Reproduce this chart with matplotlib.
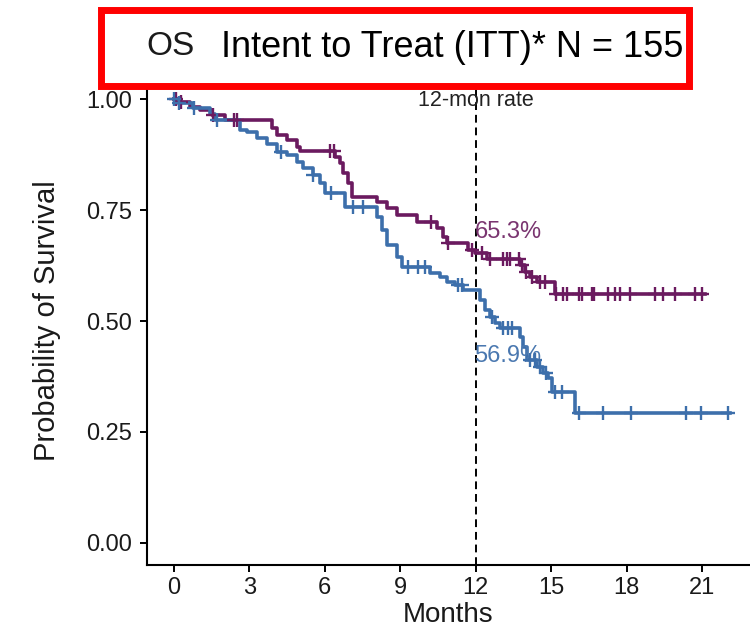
import numpy as np
import matplotlib
matplotlib.use("Agg")
from matplotlib import pyplot as plt
from matplotlib.patches import Rectangle

plt.rcParams["font.family"] = ["Liberation Sans", "DejaVu Sans"]

# Kaplan-Meier steps: (month, survival after the drop)
purple_t = [0.12, 0.64, 1.03, 1.51, 2.03, 3.90, 4.10, 4.49, 4.89, 5.01, 6.40, 6.60,
            6.72, 6.92, 7.08, 8.07, 8.47, 8.87, 9.66, 10.46, 10.70, 10.85, 11.70,
            11.95, 12.45, 13.76, 13.96, 14.16, 14.43, 15.15]
purple_s = [0.993, 0.982, 0.975, 0.964, 0.953, 0.935, 0.920, 0.908, 0.892, 0.883,
            0.869, 0.856, 0.833, 0.811, 0.779, 0.768, 0.754, 0.739, 0.723, 0.710,
            0.689, 0.676, 0.660, 0.653, 0.640, 0.626, 0.610, 0.599, 0.588, 0.561]
purple_cens = [0.10, 0.30, 1.55, 2.40, 2.50, 6.20, 6.36, 10.20, 10.90, 11.85,
               12.25, 12.55, 13.10, 13.24, 13.35, 13.70, 13.82, 14.00, 14.25,
               14.55, 14.75, 15.19, 15.47, 15.63, 16.10, 16.22, 16.62, 16.68,
               17.26, 17.53, 17.73, 18.13, 19.13, 19.44, 19.92, 20.72, 21.00]
purple_end = 21.1

blue_t = [0.15, 0.75, 1.43, 1.63, 2.62, 2.90, 3.30, 3.70, 4.10, 4.49, 4.89, 5.13,
          5.53, 5.80, 6.00, 6.80, 8.07, 8.27, 8.47, 8.87, 9.07, 10.18, 10.58,
          10.85, 11.17, 11.49, 12.17, 12.37, 12.56, 12.76, 12.96, 13.76, 13.88,
          14.04, 14.43, 14.67, 14.87, 15.03, 15.94]
blue_s = [0.991, 0.980, 0.966, 0.953, 0.930, 0.925, 0.912, 0.900, 0.880, 0.874,
          0.858, 0.845, 0.829, 0.811, 0.788, 0.757, 0.734, 0.705, 0.671, 0.644,
          0.622, 0.608, 0.600, 0.588, 0.581, 0.569, 0.547, 0.525, 0.509, 0.495,
          0.484, 0.464, 0.441, 0.412, 0.396, 0.383, 0.372, 0.340, 0.293]
blue_cens = [0.00, 0.20, 0.80, 1.73, 4.25, 5.53, 6.25, 7.10, 7.50, 9.30, 9.70,
             10.00, 11.30, 11.45, 12.65, 13.08, 13.28, 13.44, 14.16, 14.35, 14.55,
             14.79, 15.15, 15.43, 16.10, 17.06, 18.17, 20.36, 20.95, 22.03]
blue_end = 22.1

rate_month = 12
purple_rate = "65.3%"
blue_rate = "56.9%"

x_ticks = [0, 3, 6, 9, 12, 15, 18, 21]
y_ticks = [0.0, 0.25, 0.5, 0.75, 1.0]

purple = "#6b1a5f"
blue = "#3d6fab"


def km_path(times, surv, end):
    t = np.concatenate([[0.0], times, [end]])
    s = np.concatenate([[1.0], surv, [surv[-1]]])
    return t, s


def surv_at(times, surv, x):
    idx = np.searchsorted(times, x, side="right")
    full = np.concatenate([[1.0], surv])
    return full[idx]


fig = plt.figure(figsize=(7.5, 6.36), dpi=100)
ax = fig.add_axes([147 / 750, 1 - 565 / 636, 603 / 750, 488 / 636])

for t, s, c, end, col in [
    (purple_t, purple_s, purple_cens, purple_end, purple),
    (blue_t, blue_s, blue_cens, blue_end, blue),
]:
    xs, ys = km_path(t, s, end)
    ax.step(xs, ys, where="post", color=col, lw=2.6, zorder=3)
    cy = [surv_at(np.array(t), np.array(s), v) for v in c]
    ax.plot(c, cy, ls="none", marker="+", ms=10.5, mew=1.7, color=col, zorder=4)

ax.axvline(rate_month, color="black", ls=(0, (4, 2.5)), lw=1.4, zorder=2)
ax.text(rate_month, 0.998, "12-mon rate", ha="center", va="center", fontsize=15.5,
        color="#222222")
ax.text(rate_month - 0.05, 0.70, purple_rate, color="#7a3570", fontsize=17,
        ha="left", va="center")
ax.text(rate_month - 0.05, 0.42, blue_rate, color="#4a78b0", fontsize=17,
        ha="left", va="center")

ax.set_xlim(-1.07, 22.9)
ax.set_ylim(-0.05, 1.05)
ax.set_xticks(x_ticks)
ax.set_yticks(y_ticks)
ax.set_yticklabels([f"{v:.2f}" for v in y_ticks])
ax.tick_params(labelsize=17, length=5, width=1.4, color="black", labelcolor="#1a1a1a")
ax.tick_params(axis="y", pad=6)
for side in ["top", "right"]:
    ax.spines[side].set_visible(False)
for side in ["left", "bottom"]:
    ax.spines[side].set_linewidth(1.5)
ax.set_xlabel("Months", fontsize=20, labelpad=2, color="#1a1a1a")
ax.set_ylabel("Probability of Survival", fontsize=21, labelpad=18, color="#1a1a1a")

box = Rectangle((101 / 750, 1 - 86 / 636), 588 / 750, 76 / 636,
                transform=fig.transFigure, facecolor="white", edgecolor="#ff0000",
                lw=5, zorder=10)
fig.add_artist(box)
fig.text(146 / 750, 1 - 55 / 636, "OS", fontsize=24, va="baseline", zorder=11,
         color="#1a1a1a")
fig.text(221 / 750, 1 - 57 / 636, "Intent to Treat (ITT)* N = 155", fontsize=26,
         va="baseline", zorder=11)

fig.savefig("out.png", dpi=100)
